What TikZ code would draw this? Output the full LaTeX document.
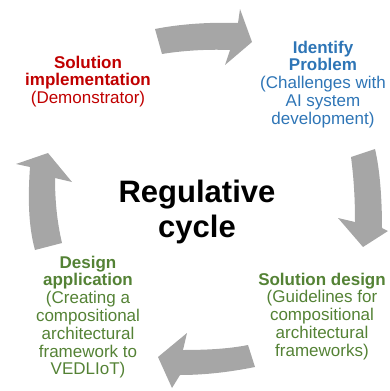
\documentclass[tikz,border=0pt]{standalone}
\usepackage{fontspec}
\setmainfont{Liberation Sans}
\definecolor{cred}{HTML}{C00000}
\definecolor{cblue}{HTML}{2E75B6}
\definecolor{cgreen}{HTML}{548235}
\definecolor{carrow}{HTML}{A6A6A6}
\begin{document}
\begin{tikzpicture}[x=1pt,y=-1pt,
  lbl/.style={align=center,inner sep=0pt,anchor=north,font=\fontsize{17}{17.8}\selectfont},
  cyc/.style={fill=carrow,draw=none}]
\useasboundingbox (0,0) rectangle (390,391);
% arrows
\fill[cyc] (155,29) .. controls (180,24) and (210,22) .. (238,23) -- (240,9) -- (252,42) -- (225,65) -- (230,50)
  .. controls (205,49) and (180,51) .. (162,54) -- cycle;
\fill[cyc] (375,149) .. controls (380,170) and (382,200) .. (382,228) -- (388,231) -- (363,247) -- (338,218) -- (355,222)
  .. controls (355,200) and (354,180) .. (351,157) -- cycle;
\fill[cyc] (255,367) .. controls (230,372) and (205,375) .. (180,375) -- (172,388) -- (158,357) -- (187,333) -- (183,350)
  .. controls (205,350) and (228,349) .. (248,345) -- cycle;
\fill[cyc] (35,250) .. controls (28,225) and (28,195) .. (30,167) -- (16,164) -- (48,153) -- (72,182) -- (55,178)
  .. controls (55,200) and (57,222) .. (62,243) -- cycle;
% texts
\node[lbl,text=cred] (impl) at (88,55.5) {\textbf{Solution}\\\textbf{implementation}\\(Demonstrator)};
\node[lbl,text=cblue] (ident) at (323,40.5) {\textbf{Identify}\\\textbf{Problem}\\(Challenges with\\AI system\\development)};
\node[lbl,text=cgreen] (sdes) at (322,272.5) {\textbf{Solution design}\\(Guidelines for\\compositional\\architectural\\frameworks)};
\node[lbl,text=cgreen] (dapp) at (88,255.5) {\textbf{Design}\\\textbf{application}\\(Creating a\\compositional\\architectural\\framework to\\VEDLIoT)};
\node[align=center,inner sep=0pt,anchor=north,font=\fontsize{31}{35}\selectfont\bfseries] (center) at (197,180) {Regulative\\cycle};
\end{tikzpicture}
\end{document}
